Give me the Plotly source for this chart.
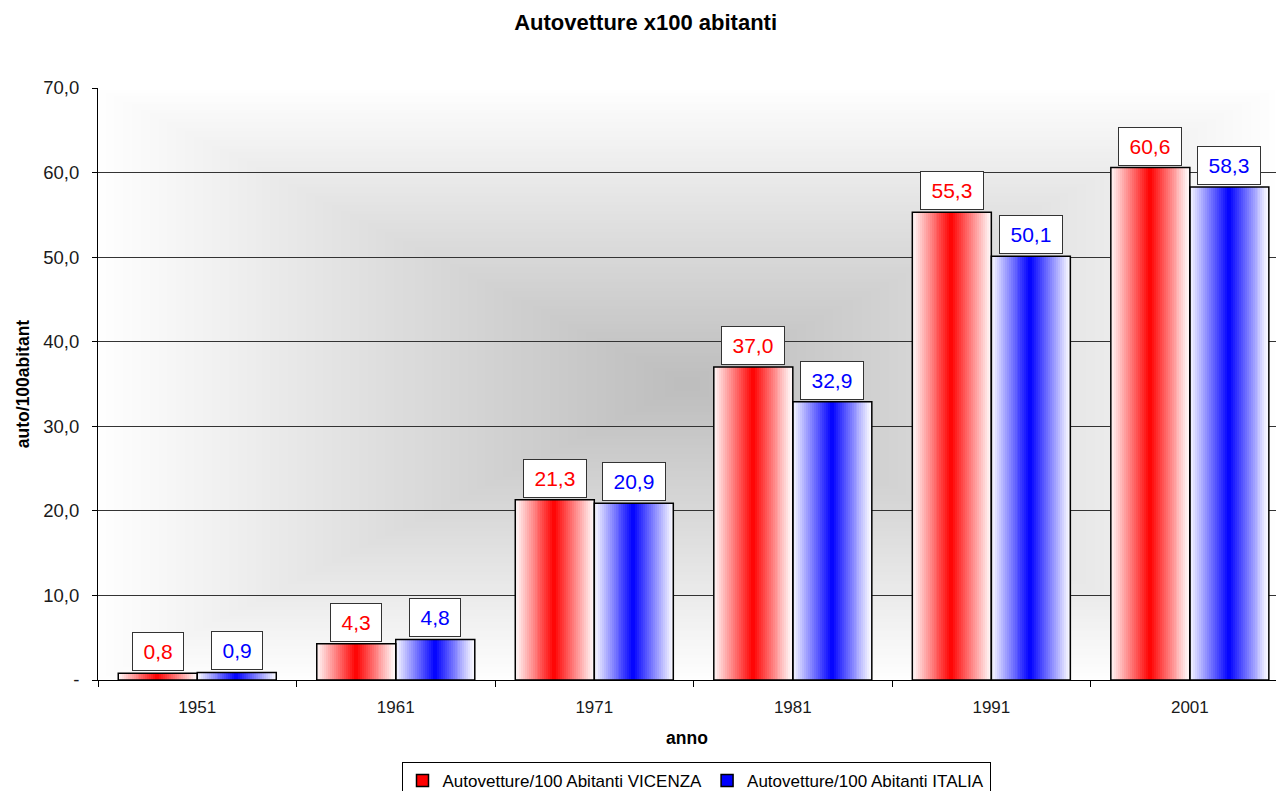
import base64
import struct
import zlib

import numpy as np
import plotly.graph_objects as go

# ---------------- data ----------------
years = ["1951", "1961", "1971", "1981", "1991", "2001"]
vicenza = [0.8, 4.3, 21.3, 37.0, 55.3, 60.6]
italia = [0.9, 4.8, 20.9, 32.9, 50.1, 58.3]
series_names = ["Autovetture/100 Abitanti VICENZA", "Autovetture/100 Abitanti ITALIA"]
y_ticks = [0, 10, 20, 30, 40, 50, 60, 70]
y_ticktext = ["-", "10,0", "20,0", "30,0", "40,0", "50,0", "60,0", "70,0"]

title_text = "Autovetture x100 abitanti"
x_title = "anno"
y_title = "auto/100abitant"

FONT = "Liberation Sans, Arial, sans-serif"
RED = (255, 0, 0)
BLUE = (0, 0, 255)
BW = 0.398           # width of one bar (category units)
NSTRIP = 40          # strips used to draw horizontal gradient
X_RIGHT = 5.434      # the last category is slightly cut at the right edge


def fmt(v):
    return f"{v:.1f}".replace(".", ",")


def grad_color(rgb, t):
    t = min(t, 0.96)
    r, g, b = (int(round(c + (255 - c) * t)) for c in rgb)
    return f"rgb({r},{g},{b})"


# ---------- background: rectangular "from centre" gradient as PNG ----------
def png_gray(arr):
    h, w = arr.shape
    raw = b"".join(b"\x00" + bytes(row) for row in arr.astype(np.uint8))

    def chunk(tag, data):
        c = struct.pack(">I", len(data)) + tag + data
        return c + struct.pack(">I", zlib.crc32(tag + data) & 0xFFFFFFFF)

    return (b"\x89PNG\r\n\x1a\n"
            + chunk(b"IHDR", struct.pack(">IIBBBBB", w, h, 8, 0, 0, 0, 0))
            + chunk(b"IDAT", zlib.compress(raw, 9))
            + chunk(b"IEND", b""))


gw, gh = 400, 200
u = np.abs(np.linspace(-1, 1, gw))[None, :]
v = np.abs(np.linspace(-1, 1, gh))[:, None]
t = np.maximum(u, v)
gray = 190 + (255 - 190) * t ** 1.05
bg_uri = "data:image/png;base64," + base64.b64encode(png_gray(np.clip(gray, 0, 255))).decode()

fig = go.Figure()

# ---------- gradient bars (strips) ----------
for vals, rgb, start in ((vicenza, RED, -BW), (italia, BLUE, 0.0)):
    w = BW / NSTRIP
    for k in range(NSTRIP):
        tt = abs((k + 0.5) / NSTRIP * 2 - 1)
        fig.add_trace(go.Bar(
            x=years, y=vals, width=w, offset=start + k * w,
            marker=dict(color=grad_color(rgb, tt), line=dict(width=0)),
            showlegend=False, hoverinfo="skip",
        ))

# ---------- bar outlines ----------
for vals, start in ((vicenza, -BW), (italia, 0.0)):
    fig.add_trace(go.Bar(
        x=years, y=vals, width=BW, offset=start,
        marker=dict(color="rgba(0,0,0,0)", line=dict(color="black", width=1.5)),
        showlegend=False, hoverinfo="skip",
    ))

# ---------- legend entries ----------
for name, rgb in zip(series_names, (RED, BLUE)):
    fig.add_trace(go.Bar(
        x=[None], y=[None], name=name,
        marker=dict(color=f"rgb{rgb}", line=dict(color="black", width=1.5)),
    ))

# ---------- boxed data labels ----------
annotations = []
for vals, col, dx in ((vicenza, "#ff0000", -BW / 2), (italia, "#0000ff", BW / 2)):
    for i, val in enumerate(vals):
        txt = fmt(val)
        ndig = sum(ch.isdigit() for ch in txt)
        annotations.append(dict(
            x=i + dx, y=val, xref="x", yref="y", text=txt, showarrow=False,
            yanchor="bottom", yshift=2,
            font=dict(family=FONT, size=21, color=col),
            bgcolor="white", bordercolor="#333333", borderwidth=1, borderpad=6,
            width=21 * (0.556 * ndig + 0.278) + 9, height=25,
        ))

fig.update_layout(
    width=1276, height=791,
    margin=dict(l=98, r=0, t=88, b=111, autoexpand=False),
    paper_bgcolor="white", plot_bgcolor="rgba(0,0,0,0)",
    barmode="overlay",
    font=dict(family=FONT, color="black"),
    title=dict(text=f"<b>{title_text}</b>", x=0.506, xref="container", xanchor="center",
               y=1 - 22 / 791, yref="container", yanchor="middle",
               font=dict(family=FONT, size=22, color="black")),
    xaxis=dict(
        type="category", categoryorder="array", categoryarray=years,
        range=[-0.5, X_RIGHT],
        tickson="boundaries", ticks="outside", ticklen=6, tickcolor="black", tickwidth=1,
        showline=True, linecolor="black", linewidth=1, showgrid=False,
        tickfont=dict(family=FONT, size=17, color="#1a1a1a"), ticklabelstandoff=12,
        title=dict(text=f"<b>{x_title}</b>", font=dict(family=FONT, size=17.5), standoff=15),
    ),
    yaxis=dict(
        range=[0, 70], tickvals=y_ticks, ticktext=y_ticktext,
        ticks="outside", ticklen=5, tickcolor="black", tickwidth=1,
        showline=True, linecolor="black", linewidth=1,
        showgrid=True, gridcolor="#333333", gridwidth=1, zeroline=False,
        tickfont=dict(family=FONT, size=18.5, color="#1a1a1a"), ticklabelstandoff=9,
        title=dict(text=f"<b>{y_title}</b>", font=dict(family=FONT, size=17.5), standoff=9),
    ),
    legend=dict(
        orientation="h", x=696 / 1276, xref="container", xanchor="center",
        y=1 - 762 / 791, yref="container", yanchor="top",
        bordercolor="black", borderwidth=1, bgcolor="white",
        font=dict(family=FONT, size=17, color="black"),
        itemwidth=30, tracegroupgap=0,
    ),
    annotations=annotations,
    images=[dict(source=bg_uri, xref="x domain", yref="y domain", x=0, y=1,
                 sizex=1, sizey=1, xanchor="left", yanchor="top",
                 sizing="stretch", layer="below")],
    showlegend=True,
)

fig.write_html("out.html")
